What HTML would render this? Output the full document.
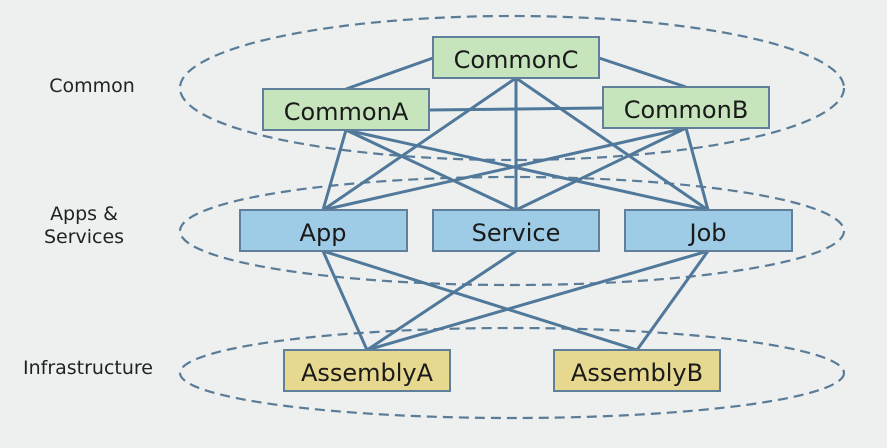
<!DOCTYPE html>
<html><head><meta charset="utf-8"><style>
html,body{margin:0;padding:0;background:#edf0ee;}
svg{display:block;}
text{font-family:"DejaVu Sans","Liberation Sans",sans-serif;}
</style></head><body>
<svg width="887" height="448" viewBox="0 0 887 448" xmlns="http://www.w3.org/2000/svg">
<rect width="887" height="448" fill="#edf0ee"/>
<g fill="none" stroke="#5a7c98" stroke-width="2.2" stroke-dasharray="10,6">
<ellipse cx="512" cy="88" rx="332" ry="72"/>
<ellipse cx="512" cy="231" rx="332" ry="54"/>
<ellipse cx="512" cy="373" rx="332" ry="45"/>
</g>
<g stroke="#50789a" stroke-width="3" fill="none">
<line x1="433" y1="58" x2="346" y2="89"/>
<line x1="599" y1="58" x2="686" y2="87"/>
<line x1="429" y1="110" x2="602" y2="108"/>
<line x1="516" y1="78" x2="323" y2="210"/>
<line x1="516" y1="78" x2="516" y2="210"/>
<line x1="516" y1="78" x2="708" y2="210"/>
<line x1="346" y1="130" x2="323" y2="210"/>
<line x1="346" y1="130" x2="516" y2="210"/>
<line x1="346" y1="130" x2="708" y2="210"/>
<line x1="686" y1="128" x2="323" y2="210"/>
<line x1="686" y1="128" x2="516" y2="210"/>
<line x1="686" y1="128" x2="708" y2="210"/>
<line x1="323" y1="251" x2="367" y2="350"/>
<line x1="323" y1="251" x2="637" y2="350"/>
<line x1="516" y1="251" x2="367" y2="350"/>
<line x1="708" y1="251" x2="367" y2="350"/>
<line x1="708" y1="251" x2="637" y2="350"/>
</g>
<g stroke="#5f7f9b" stroke-width="2">
<rect x="433" y="37" width="166" height="41" fill="#c6e5bd"/>
<rect x="263" y="89" width="166" height="41" fill="#c6e5bd"/>
<rect x="603" y="87" width="166" height="41" fill="#c6e5bd"/>
<rect x="240" y="210" width="167" height="41" fill="#9ecbe6"/>
<rect x="433" y="210" width="166" height="41" fill="#9ecbe6"/>
<rect x="625" y="210" width="167" height="41" fill="#9ecbe6"/>
<rect x="284" y="350" width="166" height="41" fill="#e6d88f"/>
<rect x="554" y="350" width="166" height="41" fill="#e6d88f"/>
</g>
<g font-size="24" fill="#1a1a1a" text-anchor="middle">
<text x="516" y="68">CommonC</text>
<text x="346" y="120">CommonA</text>
<text x="686" y="118">CommonB</text>
<text x="323" y="241">App</text>
<text x="516" y="241">Service</text>
<text x="708" y="241">Job</text>
<text x="367" y="381">AssemblyA</text>
<text x="637" y="381">AssemblyB</text>
</g>
<g font-size="19" fill="#222" text-anchor="middle">
<text x="92" y="92">Common</text>
<text x="84" y="220">Apps &amp;</text>
<text x="84" y="243">Services</text>
<text x="88" y="374">Infrastructure</text>
</g>
</svg>
</body></html>
